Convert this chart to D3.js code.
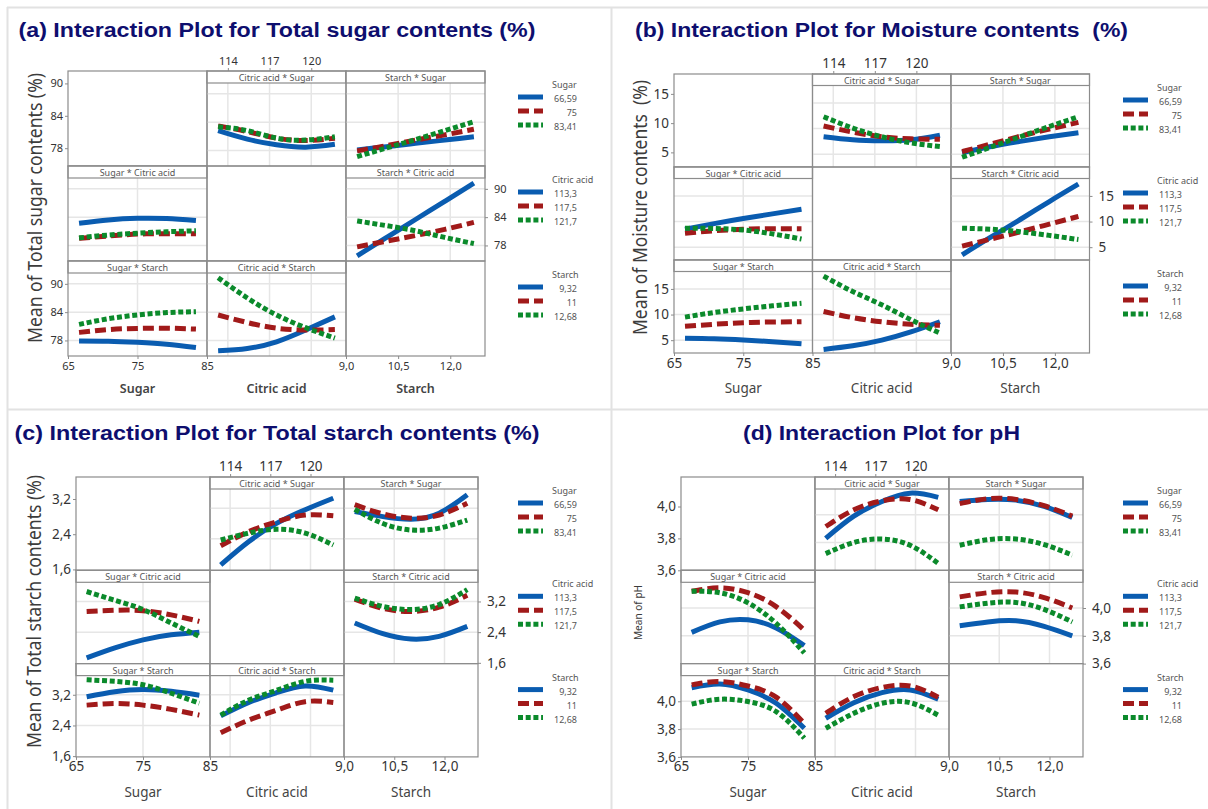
<!DOCTYPE html>
<html>
<head>
<meta charset="utf-8">
<script src="https://cdn.jsdelivr.net/npm/d3@7"></script>
<style>
body { margin: 0; background: #fff; }
svg { display: block; }
</style>
</head>
<body>
<svg id="chart" width="1208" height="809"></svg>
<script>
// factors, levels and the x positions where values were read
var factorNames = ["Sugar", "Citric acid", "Starch"];
var sugarLevels = ["66,59", "75", "83,41"];
var citricLevels = ["113,3", "117,5", "121,7"];
var starchLevels = ["9,32", "11", "12,68"];
var sugarX = [66.59, 70.8, 75, 79.2, 83.41];
var citricX = [113.3, 115.4, 117.5, 119.6, 121.7];
var starchX = [9.32, 10.16, 11, 11.84, 12.68];
var xDomains = [[65, 85], [112.5, 122.5], [9, 13]];
var xTicks = [[65, 75, 85], [114, 117, 120], [9, 10.5, 12]];

// (a) total sugar -- each array: [low, mid, high] trace level, 5 points along x
var aYDomain = [74.7, 92.3], aYTicks = [78, 84, 90];
var aCitricBySugar = [[82.2, 80.4, 79.2, 78.7, 79.3], [83.2, 82.0, 80.6, 80.1, 80.6], [83.0, 82.2, 80.6, 80.2, 80.9]];
var aStarchBySugar = [[78.1, 78.8, 79.5, 80.2, 80.9], [77.9, 79.0, 80.2, 81.3, 82.5], [76.7, 78.5, 80.3, 82.2, 84.1]];
var aSugarByCitric = [[82.7, 83.4, 83.75, 83.7, 83.3], [79.5, 80.0, 80.4, 80.5, 80.5], [79.6, 80.2, 80.6, 80.9, 81.1]];
var aStarchByCitric = [[75.8, 79.65, 83.5, 87.35, 91.2], [77.7, 78.9, 80.1, 81.4, 82.9], [83.2, 82.2, 81.1, 79.7, 78.4]];
var aSugarByStarch = [[77.9, 77.85, 77.6, 77.2, 76.5], [79.7, 80.3, 80.55, 80.6, 80.4], [81.4, 82.6, 83.4, 83.9, 84.1]];
var aCitricByStarch = [[75.8, 76.3, 77.7, 80.2, 83.0], [83.4, 81.8, 80.6, 80.2, 80.3], [91.3, 87.0, 83.4, 80.7, 78.5]];

// (b) moisture
var bYDomain = [2.5, 18.4], bYTicks = [5, 10, 15];
var bCitricBySugar = [[8.4, 7.8, 7.6, 7.8, 8.7], [10.5, 9.3, 8.4, 8.0, 7.9], [12.3, 10.1, 8.4, 7.2, 6.5]];
var bStarchBySugar = [[5.3, 6.5, 7.5, 8.4, 9.2], [5.5, 7.0, 8.5, 9.9, 11.2], [4.4, 6.4, 8.4, 10.4, 12.3]];
var bSugarByCitric = [[8.5, 9.6, 10.6, 11.5, 12.4], [7.7, 8.2, 8.5, 8.6, 8.6], [8.7, 8.65, 8.35, 7.6, 6.6]];
var bStarchByCitric = [[3.5, 7.0, 10.4, 13.9, 17.3], [5.2, 6.6, 8.0, 9.5, 11.0], [8.7, 8.5, 8.0, 7.3, 6.5]];
var bSugarByStarch = [[5.4, 5.3, 5.05, 4.7, 4.3], [7.7, 8.1, 8.4, 8.55, 8.6], [9.5, 10.4, 11.1, 11.7, 12.2]];
var bCitricByStarch = [[3.2, 3.9, 5.0, 6.6, 8.6], [10.6, 9.4, 8.6, 8.1, 7.9], [17.5, 14.5, 11.9, 9.0, 6.4]];

// (c) total starch
var cYDomain = [1.58, 3.70], cYTicks = [1.6, 2.4, 3.2];
var cCitricBySugar = [[1.72, 2.33, 2.81, 3.16, 3.46], [2.22, 2.59, 2.85, 3.02, 3.0], [2.37, 2.55, 2.65, 2.55, 2.24]];
var cStarchBySugar = [[3.11, 2.98, 2.91, 3.07, 3.55], [3.29, 3.05, 2.94, 3.02, 3.33], [3.17, 2.80, 2.63, 2.68, 2.89]];
var cSugarByCitric = [[1.73, 1.99, 2.2, 2.33, 2.40], [2.94, 2.97, 2.96, 2.85, 2.68], [3.46, 3.23, 2.99, 2.64, 2.29]];
var cStarchByCitric = [[2.64, 2.36, 2.22, 2.29, 2.55], [3.26, 3.02, 2.94, 3.05, 3.36], [3.29, 3.07, 2.99, 3.12, 3.51]];
var cSugarByStarch = [[3.15, 3.28, 3.34, 3.29, 3.19], [2.93, 2.97, 2.93, 2.82, 2.67], [3.59, 3.55, 3.46, 3.24, 2.98]];
var cCitricByStarch = [[2.65, 3.00, 3.26, 3.43, 3.32], [2.21, 2.54, 2.80, 3.02, 3.0], [2.67, 3.06, 3.32, 3.55, 3.58]];

// (d) pH
var dYDomain = [3.6, 4.185], dYTicks = [3.6, 3.8, 4.0];
var dCitricBySugar = [[3.83, 3.99, 4.095, 4.155, 4.125], [3.915, 4.035, 4.10, 4.11, 4.035], [3.72, 3.80, 3.825, 3.78, 3.65]];
var dStarchBySugar = [[4.095, 4.11, 4.105, 4.06, 3.98], [4.08, 4.115, 4.11, 4.065, 3.99], [3.78, 3.82, 3.825, 3.785, 3.71]];
var dSugarByCitric = [[3.825, 3.90, 3.915, 3.857, 3.73], [4.12, 4.145, 4.11, 4.01, 3.84], [4.12, 4.11, 4.037, 3.89, 3.677]];
var dStarchByCitric = [[3.873, 3.90, 3.908, 3.868, 3.80], [4.08, 4.11, 4.115, 4.075, 4.00], [4.008, 4.035, 4.04, 3.99, 3.90]];
var dSugarByStarch = [[4.098, 4.125, 4.082, 3.986, 3.806], [4.118, 4.142, 4.11, 4.03, 3.84], [3.98, 4.015, 3.998, 3.926, 3.735]];
var dCitricByStarch = [[3.878, 3.99, 4.062, 4.082, 4.015], [3.914, 4.034, 4.10, 4.11, 4.03], [3.806, 3.914, 3.986, 3.99, 3.90]];

var svg = d3.select("#chart");
var loc = d3.formatLocale({decimal: ",", thousands: ".", grouping: [3], currency: ["", ""]});
var f0 = loc.format("d"), f1 = loc.format(".1f");
var xFormats = [f0, f0, f1];
var xPoints = [sugarX, citricX, starchX];
var levelLabels = [sugarLevels, citricLevels, starchLevels];

var colors = ["#0a5cb0", "#a11a1a", "#0b8a2b"];
var dashes = [null, "11,5", "5,2.7"];
var lineColor = "#8c8c8c";
var font = "'Noto Sans', 'Open Sans', sans-serif";

// panel separators
svg.append("line").attr("x1", 7.5).attr("x2", 7.5).attr("y1", 7).attr("y2", 809).attr("stroke", "#e2e2e2").attr("stroke-width", 2);
svg.append("line").attr("x1", 611.5).attr("x2", 611.5).attr("y1", 7).attr("y2", 809).attr("stroke", "#e2e2e2").attr("stroke-width", 2);
svg.append("line").attr("x1", 7).attr("x2", 1208).attr("y1", 7.5).attr("y2", 7.5).attr("stroke", "#e2e2e2").attr("stroke-width", 2);
svg.append("line").attr("x1", 7).attr("x2", 1208).attr("y1", 409.5).attr("y2", 409.5).attr("stroke", "#e2e2e2").attr("stroke-width", 2);

function drawPanel(p) {
    var g = svg.append("g");

    g.append("text")
        .attr("x", p.titleX).attr("y", p.titleY)
        .attr("textLength", p.titleLen).attr("lengthAdjust", "spacingAndGlyphs")
        .attr("font-family", "'Liberation Sans', Arial, sans-serif")
        .attr("font-weight", "bold").attr("font-size", 20)
        .attr("fill", "#0e0e6e")
        .style("white-space", "pre")
        .text(p.title);

    var scales = {};
    for (var r = 0; r < 3; r++) {
        for (var c = 0; c < 3; c++) {
            var x0 = p.left + c * p.colW, y0 = p.top + r * p.rowH, y1 = y0 + p.rowH;
            var data = p.cells[r + "-" + c];
            var top = data ? y0 + p.strip : y0;
            var xs = d3.scaleLinear().domain(xDomains[c]).range([x0, x0 + p.colW]);
            var ys = d3.scaleLinear().domain(p.yDomain).range([y1, top]);
            scales[r + "-" + c] = {x: xs, y: ys};
            var cell = g.append("g");

            if (data) {
                cell.selectAll(".vg")
                    .data(xTicks[c].filter(function(t) { return t > xDomains[c][0] && t < xDomains[c][1]; }))
                    .join("line")
                    .attr("x1", function(t) { return xs(t); }).attr("x2", function(t) { return xs(t); })
                    .attr("y1", top).attr("y2", y1)
                    .attr("stroke", "#e6e6e6").attr("stroke-width", 1.5);
                cell.selectAll(".hg")
                    .data(p.yTicks.filter(function(t) { return ys(t) < y1 - 1; }))
                    .join("line")
                    .attr("x1", x0).attr("x2", x0 + p.colW)
                    .attr("y1", function(t) { return ys(t); }).attr("y2", function(t) { return ys(t); })
                    .attr("stroke", "#e6e6e6").attr("stroke-width", 1.5);

                cell.append("rect")
                    .attr("x", x0).attr("y", y0).attr("width", p.colW).attr("height", p.strip)
                    .attr("fill", "#fff").attr("stroke", lineColor).attr("stroke-width", 1.2);
                cell.append("text")
                    .attr("x", x0 + p.colW / 2).attr("y", y0 + p.strip - 2)
                    .attr("text-anchor", "middle")
                    .attr("font-family", font).attr("font-size", 9)
                    .attr("fill", "#555")
                    .text(factorNames[c] + " * " + factorNames[r]);

                var line = d3.line()
                    .x(function(v, k) { return xs(xPoints[c][k]); })
                    .y(function(v) { return ys(v); })
                    .curve(d3.curveNatural);
                data.forEach(function(vals, i) {
                    cell.append("path")
                        .attr("d", line(vals))
                        .attr("fill", "none")
                        .attr("stroke", colors[i])
                        .attr("stroke-width", 5)
                        .attr("stroke-dasharray", dashes[i]);
                });
            }

            cell.append("rect")
                .attr("x", x0).attr("y", y0).attr("width", p.colW).attr("height", p.rowH)
                .attr("fill", "none").attr("stroke", lineColor).attr("stroke-width", 1.2);
        }
    }

    function styleAxis(sel, size) {
        sel.select(".domain").remove();
        sel.selectAll(".tick line").attr("stroke", lineColor);
        sel.selectAll(".tick text")
            .attr("font-family", font).attr("font-size", size).attr("fill", "#333");
    }

    var right = p.left + 3 * p.colW, bottom = p.top + 3 * p.rowH;

    // y axes: left for rows 1 and 3, right for row 2
    g.append("g").attr("transform", "translate(" + p.left + ",0)")
        .call(d3.axisLeft(scales["0-0"].y).tickValues(p.yTicks).tickFormat(p.yFormat).tickSize(3).tickPadding(2))
        .call(styleAxis, p.tickSize);
    g.append("g").attr("transform", "translate(" + p.left + ",0)")
        .call(d3.axisLeft(scales["2-0"].y).tickValues(p.yTicks).tickFormat(p.yFormat).tickSize(3).tickPadding(2))
        .call(styleAxis, p.tickSize);
    g.append("g").attr("transform", "translate(" + right + ",0)")
        .call(d3.axisRight(scales["1-2"].y).tickValues(p.yTicks).tickFormat(p.yFormat).tickSize(3).tickPadding(6))
        .call(styleAxis, p.tickSize);

    // x axes
    [0, 2].forEach(function(c) {
        g.append("g").attr("transform", "translate(0," + bottom + ")")
            .call(d3.axisBottom(scales["2-" + c].x).tickValues(xTicks[c]).tickFormat(xFormats[c]).tickSize(3).tickPadding(p.xPad))
            .call(styleAxis, p.tickSize);
    });
    g.append("g").attr("transform", "translate(0," + p.top + ")")
        .call(d3.axisTop(scales["0-1"].x).tickValues(xTicks[1]).tickFormat(xFormats[1]).tickSize(3).tickPadding(p.topPad))
        .call(styleAxis, p.tickSize);

    factorNames.forEach(function(name, c) {
        g.append("text")
            .attr("x", p.left + (c + 0.5) * p.colW).attr("y", p.xTitleY)
            .attr("text-anchor", "middle").attr("dominant-baseline", "central")
            .attr("font-family", font).attr("font-size", p.xTitleSize)
            .attr("font-weight", p.xTitleWeight).attr("fill", "#444")
            .text(name);
    });

    g.append("text")
        .attr("transform", "translate(" + p.yTitleX + "," + p.yTitleY + ") rotate(-90)")
        .attr("text-anchor", "middle").attr("dominant-baseline", "central")
        .attr("textLength", p.yTitleLen).attr("lengthAdjust", "spacingAndGlyphs")
        .attr("font-family", font).attr("font-size", p.yTitleSize)
        .attr("fill", "#3c3c3c")
        .style("white-space", "pre")
        .text(p.yTitle);

    // legends, one per row
    factorNames.forEach(function(name, r) {
        var ry = p.top + r * p.rowH;
        var lg = g.append("g");
        lg.append("text")
            .attr("x", p.legendX + 552).attr("y", ry + 13.5)
            .attr("dominant-baseline", "central")
            .attr("font-family", font).attr("font-size", 9).attr("fill", "#555")
            .text(name);
        levelLabels[r].forEach(function(lab, i) {
            var ly = ry + 26 + 14 * i;
            lg.append("line")
                .attr("x1", p.legendX + 518).attr("x2", p.legendX + 543)
                .attr("y1", ly).attr("y2", ly)
                .attr("stroke", colors[i]).attr("stroke-width", 5)
                .attr("stroke-dasharray", dashes[i]);
            lg.append("text")
                .attr("x", p.legendX + 577).attr("y", ly + 1.5)
                .attr("text-anchor", "end").attr("dominant-baseline", "central")
                .attr("font-family", font).attr("font-size", 9).attr("fill", "#555")
                .text(lab);
        });
    });
}

drawPanel({
    title: "(a) Interaction Plot for Total sugar contents (%)", titleX: 18.5, titleY: 36.5, titleLen: 517,
    yTitle: "Mean of Total sugar contents (%)", yTitleX: 35, yTitleY: 208, yTitleLen: 270, yTitleSize: 19,
    left: 68, top: 71, colW: 139, rowH: 95, strip: 12,
    tickSize: 11, xPad: 3, topPad: 3, xTitleY: 388, xTitleSize: 12.5, xTitleWeight: 600, legendX: 0,
    yDomain: aYDomain, yTicks: aYTicks, yFormat: f0,
    cells: {"0-1": aCitricBySugar, "0-2": aStarchBySugar, "1-0": aSugarByCitric,
            "1-2": aStarchByCitric, "2-0": aSugarByStarch, "2-1": aCitricByStarch}
});
drawPanel({
    title: "(b) Interaction Plot for Moisture contents  (%)", titleX: 635, titleY: 36.5, titleLen: 493,
    yTitle: "Mean of Moisture contents  (%)", yTitleX: 640, yTitleY: 207.5, yTitleLen: 255, yTitleSize: 19,
    left: 674, top: 74, colW: 138.5, rowH: 93, strip: 11.5,
    tickSize: 13.5, xPad: 2, topPad: 3, xTitleY: 388, xTitleSize: 13.5, xTitleWeight: 400, legendX: 605,
    yDomain: bYDomain, yTicks: bYTicks, yFormat: f0,
    cells: {"0-1": bCitricBySugar, "0-2": bStarchBySugar, "1-0": bSugarByCitric,
            "1-2": bStarchByCitric, "2-0": bSugarByStarch, "2-1": bCitricByStarch}
});
drawPanel({
    title: "(c) Interaction Plot for Total starch contents (%)", titleX: 14.6, titleY: 440, titleLen: 525,
    yTitle: "Mean of Total starch contents (%)", yTitleX: 34, yTitleY: 611.5, yTitleLen: 273, yTitleSize: 19,
    left: 76, top: 477, colW: 134, rowH: 93.3, strip: 12,
    tickSize: 13.5, xPad: 2, topPad: 3, xTitleY: 791.7, xTitleSize: 13.5, xTitleWeight: 400, legendX: 0,
    yDomain: cYDomain, yTicks: cYTicks, yFormat: f1,
    cells: {"0-1": cCitricBySugar, "0-2": cStarchBySugar, "1-0": cSugarByCitric,
            "1-2": cStarchByCitric, "2-0": cSugarByStarch, "2-1": cCitricByStarch}
});
drawPanel({
    title: "(d) Interaction Plot for pH", titleX: 743, titleY: 439.5, titleLen: 277,
    yTitle: "Mean of pH", yTitleX: 638, yTitleY: 612.5, yTitleLen: 55, yTitleSize: 10,
    left: 681, top: 477, colW: 134, rowH: 93.3, strip: 12,
    tickSize: 13.5, xPad: 2, topPad: 3, xTitleY: 791.7, xTitleSize: 13.5, xTitleWeight: 400, legendX: 605,
    yDomain: dYDomain, yTicks: dYTicks, yFormat: f1,
    cells: {"0-1": dCitricBySugar, "0-2": dStarchBySugar, "1-0": dSugarByCitric,
            "1-2": dStarchByCitric, "2-0": dSugarByStarch, "2-1": dCitricByStarch}
});
</script>
</body>
</html>
